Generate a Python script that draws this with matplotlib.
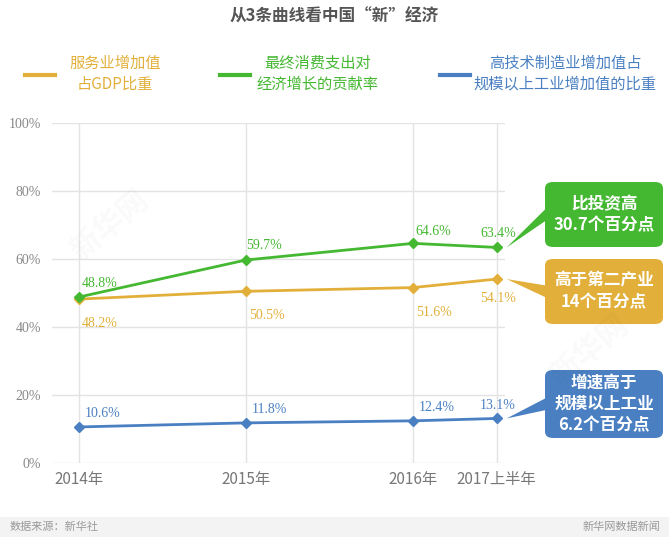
import matplotlib
matplotlib.use("Agg")
import matplotlib.pyplot as plt
from matplotlib.patches import FancyBboxPatch, Polygon, Rectangle

plt.rcParams['font.family'] = ['Noto Sans CJK SC', 'DejaVu Sans']

# data
periods = ['2014年', '2015年', '2016年', '2017上半年']
xpos = [0, 1, 2, 2.5]
service = [48.2, 50.5, 51.6, 54.1]
consume = [48.8, 59.7, 64.6, 63.4]
hightech = [10.6, 11.8, 12.4, 13.1]
yticks = [0, 20, 40, 60, 80, 100]

c_orange = '#E2B03A'
c_green = '#45B832'
c_blue = '#4A80C2'
c_grid = '#e3e3e3'
c_text = '#777777'

fig = plt.figure(figsize=(6.69, 5.37), dpi=100)
W, H = 669, 537

def fx(px):
    return px / W

def fy(py):
    return 1 - py / H

ax = fig.add_axes([fx(52), fy(463), fx(505) - fx(52), fy(123) - fy(463)])
ax.set_xlim(-0.16, 2.55)
ax.set_ylim(0, 100)
for s in ax.spines.values():
    s.set_visible(False)
ax.set_yticks(yticks)
ax.set_yticklabels([f'{v}%' for v in yticks], family='Liberation Serif', fontsize=10, color='#888888')
ax.set_xticks(xpos)
ax.set_xticklabels(periods, fontsize=11, color=c_text, style='italic')
ax.tick_params(length=0, pad=6)
ax.tick_params(axis='y', pad=8)
ax.grid(True, color=c_grid, lw=1)
ax.set_axisbelow(True)

series = [(service, c_orange), (consume, c_green), (hightech, c_blue)]
for vals, col in series:
    ax.plot(xpos, vals, color=col, lw=2, marker='D', ms=5, zorder=3)

lab_font = dict(family='Liberation Serif', fontsize=10)
# value label offsets in points
green_off = [(2, 5), (0, 6), (2, 4), (-12, 5)]
orange_off = [(2, -13), (2, -13), (2, -13), (-12, -9)]
blue_off = [(4, 5), (4, 5), (4, 5), (-12, 5)]
for vals, col, offs in [(consume, c_green, green_off), (service, c_orange, orange_off), (hightech, c_blue, blue_off)]:
    for x, v, (dx, dy) in zip(xpos, vals, offs):
        ax.annotate(f'{v}%', (x, v), xytext=(dx, dy), textcoords='offset points',
                    color=col, ha='left', va='bottom' if dy > 0 else 'top', **lab_font)

# faint watermark
fig.text(fx(110), fy(225), '新华网', fontsize=22, color='#000000', alpha=0.025,
         rotation=40, ha='center', va='center', weight='bold')
fig.text(fx(590), fy(350), '新华网', fontsize=22, color='#000000', alpha=0.025,
         rotation=40, ha='center', va='center', weight='bold')

# callout boxes
boxes = [
    ('比投资高\n30.7个百分点', c_green, consume[-1], 182, 247),
    ('高于第二产业\n14个百分点', c_orange, service[-1], 259, 324),
    ('增速高于\n规模以上工业\n6.2个百分点', c_blue, hightech[-1], 370, 438),
]
x0, x1 = 545, 663
for txt, col, v, top, bot in boxes:
    fig.patches.append(FancyBboxPatch((fx(x0), fy(bot)), fx(x1) - fx(x0), fy(top) - fy(bot),
                                      boxstyle='round,pad=0,rounding_size=0.012',
                                      transform=fig.transFigure, facecolor=col, edgecolor='none'))
    tip = ax.transData.transform((xpos[-1], v))
    tip = fig.transFigure.inverted().transform(tip)
    mid = (top + bot) / 2
    fig.patches.append(Polygon([(tip[0] + fx(10), tip[1]), (fx(x0 + 1), fy(mid - 6)), (fx(x0 + 1), fy(mid + 6))],
                               closed=True, transform=fig.transFigure, facecolor=col, edgecolor='none'))
    fig.text((fx(x0) + fx(x1)) / 2, (fy(top) + fy(bot)) / 2, txt, color='white', fontsize=12,
             weight='bold', ha='center', va='center', linespacing=1.25)

# title
fig.text(0.5, fy(17), '从3条曲线看中国“新”经济', ha='center', va='center',
         fontsize=12, weight='bold', color='#555555')

# legend
legend_items = [
    ('服务业增加值\n占GDP比重', c_orange, 25, 115),
    ('最终消费支出对\n经济增长的贡献率', c_green, 220, 318),
    ('高技术制造业增加值占\n规模以上工业增加值的比重', c_blue, 440, 565),
]
for txt, col, lx, tx in legend_items:
    fig.lines.append(plt.Line2D([fx(lx), fx(lx + 30)], [fy(75), fy(75)], color=col, lw=3,
                                transform=fig.transFigure))
    fig.text(fx(tx), fy(74), txt, color=col, fontsize=11, style='italic',
             ha='center', va='center', linespacing=1.3)

# footer
fig.patches.append(Rectangle((0, 0), 1, fy(517), transform=fig.transFigure,
                             facecolor='#f3f3f3', edgecolor='none'))
fig.text(fx(10), fy(527), '数据来源：新华社', fontsize=8, color='#999999', style='italic', va='center')
fig.text(fx(660), fy(527), '新华网数据新闻', fontsize=8, color='#999999', style='italic',
         va='center', ha='right')

fig.savefig('out.png', dpi=100, facecolor='white')
